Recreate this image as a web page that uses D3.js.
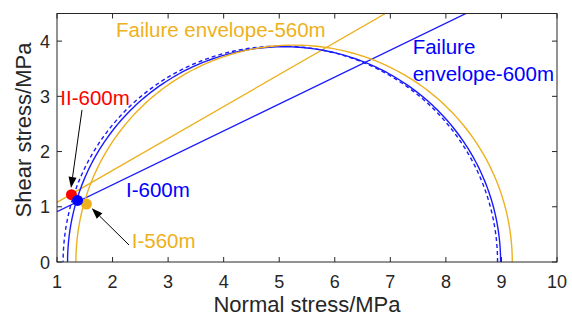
<!DOCTYPE html>
<html><head><meta charset="utf-8">
<script src="https://cdn.jsdelivr.net/npm/d3@7"></script>
<style>body{margin:0;background:#fff}svg{display:block}</style>
</head><body><svg id="c" width="572" height="320"></svg>
<script>
// ---- data ----
const xTicks = [1,2,3,4,5,6,7,8,9,10];
const yTicks = [0,1,2,3,4];
// Mohr circles: [sigma3, sigma1]
const circleNames = ["600m-solid","600m-dashed","560m"];
const circleSigma3 = [1.19, 1.11, 1.34];
const circleSigma1 = [8.985, 8.93, 9.195];
const circleColors = ["#1a1aff","#1a1aff","#EDB120"];
const circleDash = [null, "4,3", null];
// failure envelopes: tau = c + slope*sigma
const envNames = ["Failure envelope-560m","Failure envelope-600m"];
const envCohesion = [0.5015, 0.4234];
const envSlope = [0.5785, 0.4876];
const envColors = ["#EDB120","#1a1aff"];
// points
const ptNames = ["II-600m","I-560m","I-600m"];
const ptSigma = [1.26, 1.53, 1.37];
const ptTau = [1.22, 1.05, 1.115];
const ptColors = ["#ff0000","#EDB120","#0000ff"];

const W=572,H=320, L=57, R=557, T=13.5, B=262;
const x = d3.scaleLinear().domain([1,10]).range([L,R]);
const y = d3.scaleLinear().domain([0,4.5]).range([B,T]);
const svg = d3.select("#c");
const font = "'Liberation Sans', Arial, sans-serif";
const axisCol = "#262626";

svg.append("clipPath").attr("id","clip").append("rect")
  .attr("x",L).attr("y",T).attr("width",R-L).attr("height",B-T);
const plot = svg.append("g").attr("clip-path","url(#clip)");

// envelopes
envCohesion.forEach((c,i)=>{
  const s0=1, s1=10;
  plot.append("line")
    .attr("x1",x(s0)).attr("y1",y(c+envSlope[i]*s0))
    .attr("x2",x(s1)).attr("y2",y(c+envSlope[i]*s1))
    .attr("stroke",envColors[i]).attr("stroke-width",1.3);
});

// Mohr semicircles
const angles = d3.range(0,181,1).map(a=>a*Math.PI/180);
circleSigma3.forEach((s3,i)=>{
  const s1=circleSigma1[i], cen=(s1+s3)/2, r=(s1-s3)/2;
  const line=d3.line().x(a=>x(cen+r*Math.cos(a))).y(a=>y(r*Math.sin(a)));
  const p=plot.append("path").attr("d",line(angles)).attr("fill","none")
    .attr("stroke",circleColors[i]).attr("stroke-width",1.4);
  if(circleDash[i]) p.attr("stroke-dasharray",circleDash[i]);
});

// points
ptSigma.forEach((s,i)=>{
  plot.append("circle").attr("cx",x(s)).attr("cy",y(ptTau[i])).attr("r",5.5)
    .attr("fill",ptColors[i]);
});

// arrows
const arrows = [
  {from:[1.45,2.754], to:[1.252,1.34]},
  {from:[2.296,0.308], to:[1.625,0.973]}
];
arrows.forEach(a=>{
  const x1=x(a.from[0]), y1=y(a.from[1]), x2=x(a.to[0]), y2=y(a.to[1]);
  const ang=Math.atan2(y2-y1,x2-x1), hl=11, hw=4;
  const bx=x2-hl*Math.cos(ang), by=y2-hl*Math.sin(ang);
  svg.append("line").attr("x1",x1).attr("y1",y1).attr("x2",bx).attr("y2",by)
    .attr("stroke","#000").attr("stroke-width",1);
  const px=-Math.sin(ang), py=Math.cos(ang);
  svg.append("path").attr("d",`M${x2},${y2}L${bx+px*hw},${by+py*hw}L${bx-px*hw},${by-py*hw}Z`)
    .attr("fill","#000");
});

// frame + ticks
svg.append("rect").attr("x",L).attr("y",T).attr("width",R-L).attr("height",B-T)
  .attr("fill","none").attr("stroke",axisCol).attr("stroke-width",1);
const tl=5;
xTicks.forEach(t=>{
  svg.append("line").attr("x1",x(t)).attr("x2",x(t)).attr("y1",B).attr("y2",B-tl).attr("stroke",axisCol);
  svg.append("line").attr("x1",x(t)).attr("x2",x(t)).attr("y1",T).attr("y2",T+tl).attr("stroke",axisCol);
  svg.append("text").attr("x",x(t)).attr("y",288).attr("text-anchor","middle")
    .attr("font-family",font).attr("font-size",18).attr("fill",axisCol).text(t);
});
yTicks.forEach(t=>{
  svg.append("line").attr("x1",L).attr("x2",L+tl).attr("y1",y(t)).attr("y2",y(t)).attr("stroke",axisCol);
  svg.append("line").attr("x1",R).attr("x2",R-tl).attr("y1",y(t)).attr("y2",y(t)).attr("stroke",axisCol);
  svg.append("text").attr("x",50).attr("y",y(t)+6.5).attr("text-anchor","end")
    .attr("font-family",font).attr("font-size",18).attr("fill",axisCol).text(t);
});
svg.append("text").attr("x",307).attr("y",312).attr("text-anchor","middle")
  .attr("font-family",font).attr("font-size",22).attr("fill",axisCol).text("Normal stress/MPa");
svg.append("text").attr("transform","translate(31,130) rotate(-90)").attr("text-anchor","middle")
  .attr("font-family",font).attr("font-size",22).attr("fill",axisCol).text("Shear stress/MPa");

// annotations
const labels = [
  {t:"Failure envelope-560m", s:2.062, tau:4.076, c:"#EDB120"},
  {t:"Failure", s:7.402, tau:3.763, c:"#0000ff"},
  {t:"envelope-600m", s:7.402, tau:3.27, c:"#0000ff"},
  {t:"II-600m", s:1.06, tau:2.844, c:"#ff0000"},
  {t:"I-600m", s:2.242, tau:1.183, c:"#0000ff"},
  {t:"I-560m", s:2.345, tau:0.248, c:"#EDB120"}
];
labels.forEach(l=>{
  svg.append("text").attr("x",x(l.s)).attr("y",y(l.tau))
    .attr("font-family",font).attr("font-size",20.5).attr("fill",l.c).text(l.t);
});
</script></body></html>
